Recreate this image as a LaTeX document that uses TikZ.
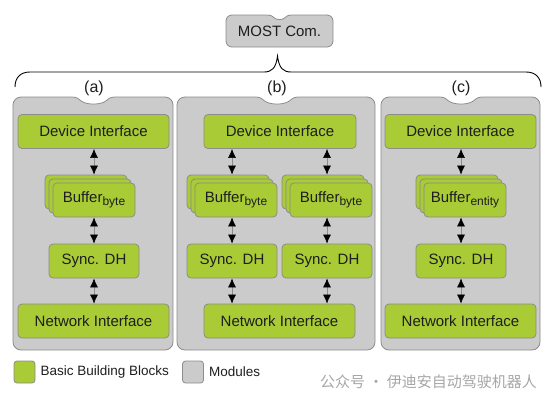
\documentclass[tikz,border=0pt]{standalone}
\usepackage{fontspec}
\setmainfont{Liberation Sans}
\newfontfamily\cjkfont{Noto Sans CJK SC}
\usetikzlibrary{positioning,shadows,arrows.meta,calc}

\definecolor{blockgreen}{HTML}{A9CB35}
\definecolor{modgray}{HTML}{CBCBCB}
\definecolor{edgegray}{HTML}{8C8C8C}
\definecolor{textgray}{HTML}{1E1E1E}

\newcommand{\bufsub}[1]{\raisebox{-3.5pt}{\fontsize{12}{14}\selectfont #1}}
% white dip in the top edge of a box: centre x, top y, half width, depth
\newcommand{\notchcut}[4]{%
  \fill[white] (#1-#3-1,#2-1.5) -- (#1-#3,#2) .. controls (#1-#3+7,#2) and (#1-#3+5,#2+#4) .. (#1,#2+#4)
    .. controls (#1+#3-5,#2+#4) and (#1+#3-7,#2) .. (#1+#3,#2) -- (#1+#3+1,#2-1.5) -- cycle;
  \draw[draw=edgegray, line width=0.8pt] (#1-#3,#2) .. controls (#1-#3+7,#2) and (#1-#3+5,#2+#4) .. (#1,#2+#4)
    .. controls (#1+#3-5,#2+#4) and (#1+#3-7,#2) .. (#1+#3,#2);}

\begin{document}
\begin{tikzpicture}[
      x=1pt, y=-1pt,
      every node/.style = {text=textgray, font=\fontsize{15}{18}\selectfont},
      block/.style      = {draw=edgegray, fill=blockgreen, line width=0.8pt, rounded corners=4pt, inner sep=0pt, minimum height=34pt},
      wideblock/.style  = {block, minimum width=151pt},
      syncblock/.style  = {block, minimum width=90pt},
      bufblock/.style   = {block, minimum width=82pt, double copy shadow={shadow xshift=-4pt, shadow yshift=4pt}},
      module/.style     = {draw=edgegray, fill=modgray, line width=0.8pt, rounded corners=8pt, minimum height=253pt, inner sep=0pt},
      legendbox/.style  = {draw=edgegray, line width=0.8pt, rounded corners=3pt, minimum width=21pt, minimum height=22pt, inner sep=0pt},
      link/.style       = {draw=edgegray, line width=0.6pt, {Latex[length=9pt,width=8pt,black]}-{Latex[length=9pt,width=8pt,black]}}
    ]
    \useasboundingbox (0,0) rectangle (556,402);

    \node (most) [draw=edgegray, fill=modgray, line width=0.8pt, rounded corners=6pt, minimum width=107pt, minimum height=32pt] at (279.5,31) {MOST Com.};
    \notchcut{279.5}{15}{12}{4.5}

    % brace
    \draw[line width=0.9pt] (15,87) .. controls (15,78) and (20,72) .. (30,72) -- (264,72)
      .. controls (272,72) and (276,68) .. (277.5,56) .. controls (279,68) and (283,72) .. (291,72)
      -- (526,72) .. controls (536,72) and (541,78) .. (541,87);

    \node (moda) [module, minimum width=160pt] at (93,223.5)  {};
    \node (modb) [module, minimum width=198pt] at (276,223.5) {};
    \node (modc) [module, minimum width=159pt] at (460.5,223.5) {};
    \notchcut{93.5}{97}{20}{7}
    \notchcut{277}{97}{20}{7}
    \notchcut{461}{97}{20}{7}
    \node (labela) [font=\fontsize{16}{19}\selectfont] at (94,88)  {(a)};
    \node (labelb) [font=\fontsize{16}{19}\selectfont] at (277,88) {(b)};
    \node (labelc) [font=\fontsize{16}{19}\selectfont] at (461,88) {(c)};

    % (a)
    \node (devia)  [wideblock] at (93.5,131.5) {Device Interface};
    \node (bufa)   [bufblock]  at (94,200)     {Buffer\bufsub{byte}};
    \node (synca)  [syncblock] at (94,261)     {Sync. DH};
    \node (netia)  [wideblock] at (93.5,321)   {Network Interface};

    % (b)
    \node (devib)  [wideblock, minimum width=152pt] at (280,131.5) {Device Interface};
    \node (bufbl)  [bufblock]  at (236,200)    {Buffer\bufsub{byte}};
    \node (bufbr)  [bufblock]  at (331,200)    {Buffer\bufsub{byte}};
    \node (syncbl) [syncblock] at (232,261)    {Sync. DH};
    \node (syncbr) [syncblock] at (327,261)    {Sync. DH};
    \node (netib)  [wideblock] at (279.5,321)  {Network Interface};

    % (c)
    \node (devic)  [wideblock] at (460.5,131.5) {Device Interface};
    \node (bufc)   [bufblock]  at (465,200)     {Buffer\bufsub{entity}};
    \node (syncc)  [syncblock] at (461,261)     {Sync. DH};
    \node (netic)  [wideblock] at (460.5,321)   {Network Interface};

    \draw[link] (synca |- devia.south)  -- ($(synca |- bufa.north)+(0,-8)$);
    \draw[link] (synca |- bufa.south)   -- (synca.north);
    \draw[link] (synca.south)           -- (synca |- netia.north);

    \draw[link] (syncbl |- devib.south) -- ($(syncbl |- bufbl.north)+(0,-8)$);
    \draw[link] (syncbl |- bufbl.south) -- (syncbl.north);
    \draw[link] (syncbl.south)          -- (syncbl |- netib.north);
    \draw[link] (syncbr |- devib.south) -- ($(syncbr |- bufbr.north)+(0,-8)$);
    \draw[link] (syncbr |- bufbr.south) -- (syncbr.north);
    \draw[link] (syncbr.south)          -- (syncbr |- netib.north);

    \draw[link] (syncc |- devic.south)  -- ($(syncc |- bufc.north)+(0,-8)$);
    \draw[link] (syncc |- bufc.south)   -- (syncc.north);
    \draw[link] (syncc.south)           -- (syncc |- netic.north);

    % legend
    \node (leggreen)     [legendbox, fill=blockgreen] at (24.5,372) {};
    \node (leggreentext) [right=4pt of leggreen, inner sep=1pt, font=\fontsize{13.5}{16}\selectfont] {Basic Building Blocks};
    \node (leggray)      [legendbox, fill=modgray] at (193,372) {};
    \node (leggraytext)  [right=4pt of leggray, inner sep=1pt, font=\fontsize{13.5}{16}\selectfont] {Modules};

    \node (watermark) [anchor=west, inner sep=0pt, text=black!35, font=\cjkfont\fontsize{15}{18}\selectfont] at (320,382) {公众号 · 伊迪安自动驾驶机器人};
  \end{tikzpicture}
\end{document}
